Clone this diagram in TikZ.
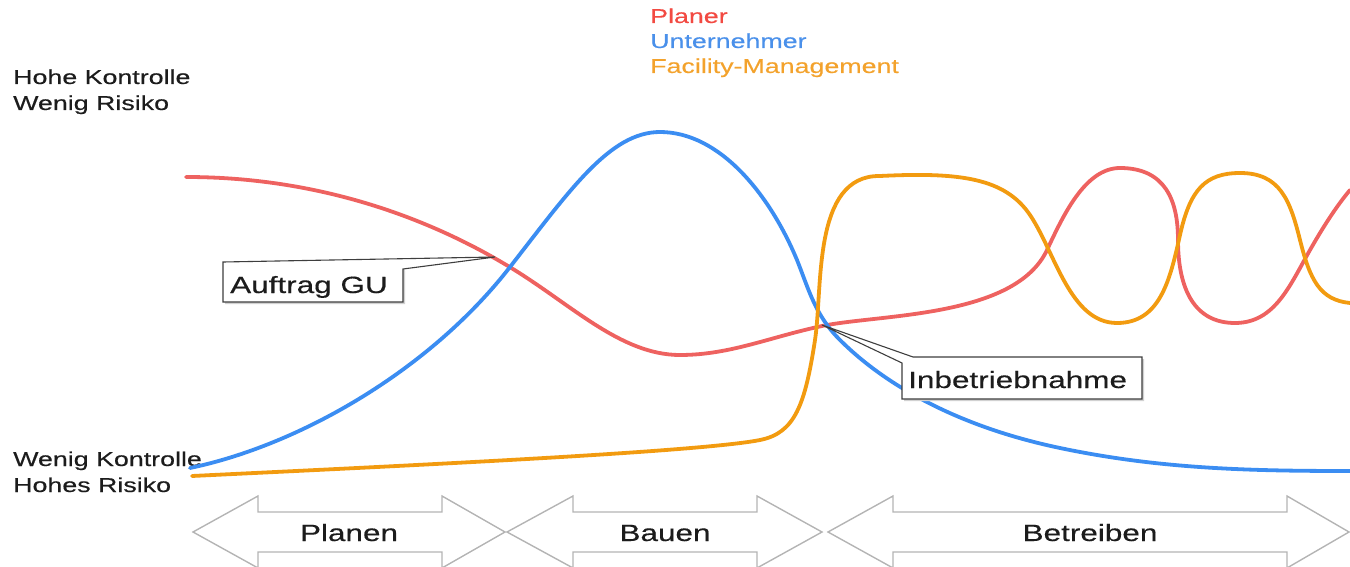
\documentclass[tikz,border=0pt]{standalone}
\usepackage{fontspec}
\setmainfont{Liberation Sans}[FakeStretch=1.34, FakeBold=0.35]
\definecolor{planer}{HTML}{EE6260}
\definecolor{untern}{HTML}{3B8DF2}
\definecolor{fm}{HTML}{F29B10}
\definecolor{planertxt}{HTML}{F24A42}
\definecolor{unterntxt}{HTML}{4A90EA}
\definecolor{fmtxt}{HTML}{F3A22C}
\definecolor{ink}{HTML}{1C1C1C}
\definecolor{arrowgray}{HTML}{B4B4B4}
\tikzset{
  curve/.style={line width=3.8pt, line cap=round, line join=round},
  lbl/.style={anchor=base west, inner sep=0pt, text=ink, font=\fontsize{20}{26}\selectfont},
  legend/.style={anchor=base west, inner sep=0pt, font=\fontsize{20}{26}\selectfont},
  callout/.style={draw=ink!85, line width=1.1pt, fill=white, line join=miter},
  calloutshadow/.style={fill=black!18, draw=none},
  callouttext/.style={anchor=base west, inner sep=0pt, text=ink, font=\fontsize{23.5}{28}\selectfont},
  phase/.style={draw=arrowgray, line width=1.4pt, line join=miter},
  phasetext/.style={anchor=base, inner sep=0pt, text=ink, font=\fontsize{23.5}{28}\selectfont}
}
\newcommand{\phasearrow}[4]{% left tip, left head base, right head base, right tip
  \draw[phase] (#1,532) -- (#2,496) -- (#2,512) -- (#3,512) -- (#3,496) -- (#4,532)
    -- (#3,568) -- (#3,552) -- (#2,552) -- (#2,568) -- cycle;}
\begin{document}
\begin{tikzpicture}[x=1pt,y=-1pt]
\useasboundingbox (0,0) rectangle (1350,567);

% legend
\node[legend, text=planertxt] (lgp) at (650,23) {Planer};
\node[legend, text=unterntxt] (lgu) at (650,48) {Unternehmer};
\node[legend, text=fmtxt] (lgf) at (650,73) {Facility-Management};

% axis descriptions
\node[lbl] (hk) at (13,84) {Hohe Kontrolle};
\node[lbl] (wr) at (13,110) {Wenig Risiko};
\node[lbl] (wk) at (13,466) {Wenig Kontrolle};
\node[lbl] (hr) at (13,492) {Hohes Risiko};

% Planer
\draw[curve, planer] (186,177)
  .. controls (330,177) and (440,225) .. (508,266)
  .. controls (570,303) and (620,355) .. (680,355)
  .. controls (730,355) and (770,337) .. (822,326)
  .. controls (880,314) and (1015,318) .. (1047,250)
  .. controls (1063,216) and (1085,168) .. (1120,168)
  .. controls (1165,168) and (1178,200) .. (1178,240)
  .. controls (1178,290) and (1195,323) .. (1235,323)
  .. controls (1275,323) and (1290,285) .. (1310,250)
  .. controls (1322,229) and (1335,208) .. (1350,190);

% Unternehmer
\draw[curve, untern] (190,468)
  .. controls (300,445) and (430,370) .. (510,267)
  .. controls (570,190) and (610,132) .. (660,132)
  .. controls (720,132) and (770,195) .. (797,260)
  .. controls (809,290) and (815,315) .. (840,340)
  .. controls (880,380) and (950,425) .. (1060,448)
  .. controls (1160,469) and (1250,471) .. (1350,471);

% Facility-Management
\draw[curve, fm] (192,476)
  .. controls (400,466) and (700,452) .. (760,440)
  .. controls (795,433) and (805,405) .. (815,340)
  .. controls (823,288) and (812,175) .. (880,176)
  .. controls (960,172) and (1005,178) .. (1030,215)
  .. controls (1055,252) and (1070,323) .. (1117,323)
  .. controls (1160,323) and (1170,280) .. (1180,235)
  .. controls (1190,190) and (1205,173) .. (1240,173)
  .. controls (1280,173) and (1290,200) .. (1300,240)
  .. controls (1310,280) and (1320,300) .. (1350,303);

% callout: Auftrag GU
\coordinate (gutip) at (495,257);
\fill[calloutshadow] (225,264) -- (403,262) -- (405,271) -- (405,304) -- (225,304) -- cycle;
\draw[callout] (223,262) -- (gutip) -- (403,269) -- (403,302) -- (223,302) -- cycle;
\node[callouttext] (gu) at (230,293) {Auftrag GU};

% callout: Inbetriebnahme
\coordinate (ibtip) at (822,325);
\fill[calloutshadow] (904,365) -- (915,359) -- (1144,359) -- (1144,401) -- (904,401) -- cycle;
\draw[callout] (ibtip) -- (913,357) -- (1142,357) -- (1142,399) -- (902,399) -- (902,363) -- cycle;
\node[callouttext] (ib) at (908,388) {Inbetriebnahme};

% phases
\phasearrow{193}{258}{442}{505}
\phasearrow{507}{573}{757}{822}
\phasearrow{828}{893}{1287}{1349}
\node[phasetext] (pl) at (349,541) {Planen};
\node[phasetext] (ba) at (665,541) {Bauen};
\node[phasetext] (be) at (1090,541) {Betreiben};
\end{tikzpicture}
\end{document}
